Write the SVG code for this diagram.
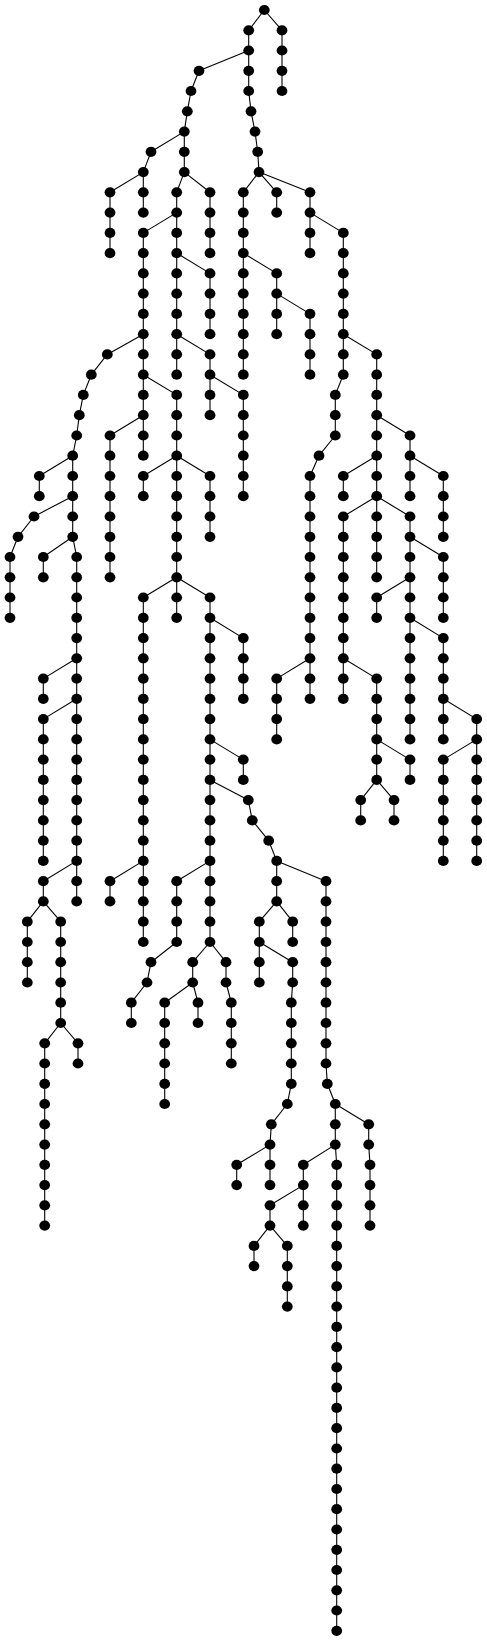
<svg xmlns="http://www.w3.org/2000/svg" width="487" height="1642" viewBox="0 0 487 1642">
<style>
#edges path{stroke:#000;stroke-width:1.1;fill:none}
.n use{fill:#000}
</style>
<defs><ellipse id="d" cx="0" cy="0" rx="5.4" ry="5.1"/></defs>
<rect width="487" height="1642" fill="#fff"/>
<g id="edges">
<path d="M264.3 10L248.7 30.3"/><path d="M264.3 10L282 30.3"/>
<path d="M282 30.3L282 50.5"/><path d="M282 50.5L282 70.8"/><path d="M282 70.8L282 91"/>
<path d="M248.7 30.3L248.7 50.5"/><path d="M248.7 50.5L248.7 70.8"/><path d="M248.7 70.8L248.7 91"/><path d="M248.7 91L251 111.3"/><path d="M251 111.3L255 131.6"/><path d="M255 131.6L257.7 151.8"/><path d="M257.7 151.8L259 172.1"/>
<path d="M248.7 50.5L199 70.8"/><path d="M199 70.8L191 91"/><path d="M191 91L187.3 111.3"/><path d="M187.3 111.3L184.3 131.6"/>
<path d="M184.3 131.6L151 151.8"/><path d="M151 151.8L143.3 172.1"/>
<path d="M143.3 172.1L110 192.3"/><path d="M110 192.3L110 212.6"/><path d="M110 212.6L110 232.9"/><path d="M110 232.9L110 253.1"/>
<path d="M143.3 172.1L143.3 192.3"/><path d="M143.3 192.3L143.3 212.6"/>
<path d="M184.3 131.6L184.3 151.8"/><path d="M184.3 151.8L184.3 172.1"/>
<path d="M184.3 172.1L176.7 192.3"/><path d="M176.7 192.3L176.7 212.6"/>
<path d="M184.3 172.1L210 192.3"/><path d="M210 192.3L210 212.6"/><path d="M210 212.6L210 232.9"/><path d="M210 232.9L210 253.1"/>
<path d="M176.7 212.6L143.3 232.9"/><path d="M143.3 232.9L143.3 253.1"/><path d="M143.3 253.1L143.3 273.4"/><path d="M143.3 273.4L143.3 293.6"/><path d="M143.3 293.6L143.3 313.9"/><path d="M143.3 313.9L143.3 334.2"/>
<path d="M176.7 212.6L176.7 232.9"/><path d="M176.7 232.9L176.7 253.1"/><path d="M176.7 253.1L176.7 273.4"/><path d="M176.7 273.4L176.7 293.6"/><path d="M176.7 293.6L176.7 313.9"/><path d="M176.7 313.9L176.7 334.2"/>
<path d="M176.7 253.1L210 273.4"/><path d="M210 273.4L210 293.6"/><path d="M210 293.6L210 313.9"/><path d="M210 313.9L210 334.2"/>
<path d="M259 172.1L243.3 192.3"/><path d="M243.3 192.3L243.3 212.6"/><path d="M243.3 212.6L243.3 232.9"/><path d="M243.3 232.9L243.3 253.1"/><path d="M243.3 253.1L243.3 273.4"/><path d="M243.3 273.4L243.3 293.6"/><path d="M243.3 293.6L243.3 313.9"/><path d="M243.3 313.9L243.3 334.2"/><path d="M243.3 334.2L243.3 354.4"/><path d="M243.3 354.4L243.3 374.7"/>
<path d="M259 172.1L276.7 192.3"/><path d="M276.7 192.3L276.7 212.6"/>
<path d="M259 172.1L310 192.3"/><path d="M310 192.3L310 212.6"/><path d="M310 212.6L310 232.9"/><path d="M310 232.9L310 253.1"/>
<path d="M243.3 253.1L276.7 273.4"/><path d="M276.7 273.4L276.7 293.6"/><path d="M276.7 293.6L276.7 313.9"/><path d="M276.7 313.9L276.7 334.2"/>
<path d="M276.7 293.6L310 313.9"/><path d="M310 313.9L310 334.2"/><path d="M310 334.2L310 354.4"/><path d="M310 354.4L310 374.7"/>
<path d="M310 212.6L343.3 232.9"/><path d="M343.3 232.9L343.3 253.1"/><path d="M343.3 253.1L343.3 273.4"/><path d="M343.3 273.4L343.3 293.6"/><path d="M343.3 293.6L343.3 313.9"/><path d="M343.3 313.9L343.3 334.2"/><path d="M343.3 334.2L343.3 354.4"/><path d="M343.3 354.4L343.3 374.7"/>
<path d="M343.3 334.2L376.7 354.4"/><path d="M376.7 354.4L376.7 374.7"/><path d="M376.7 374.7L376.7 394.9"/><path d="M376.7 394.9L376.7 415.2"/>
<path d="M343.3 374.7L335.3 394.9"/><path d="M335.3 394.9L335.3 415.2"/><path d="M335.3 415.2L335.3 435.5"/><path d="M335.3 435.5L319 455.7"/><path d="M319 455.7L310 476"/><path d="M310 476L310 496.2"/><path d="M310 496.2L310 516.5"/><path d="M310 516.5L310 536.8"/><path d="M310 536.8L310 557"/><path d="M310 557L310 577.3"/><path d="M310 577.3L310 597.5"/><path d="M310 597.5L310 617.8"/><path d="M310 617.8L310 638.1"/><path d="M310 638.1L310 658.3"/>
<path d="M310 658.3L276.7 678.6"/><path d="M276.7 678.6L276.7 698.8"/><path d="M276.7 698.8L276.7 719.1"/><path d="M276.7 719.1L276.7 739.4"/>
<path d="M310 658.3L310 678.6"/><path d="M310 678.6L310 698.8"/>
<path d="M376.7 415.2L376.7 435.5"/><path d="M376.7 435.5L376.7 455.7"/>
<path d="M376.7 455.7L343.3 476"/><path d="M343.3 476L343.3 496.2"/>
<path d="M376.7 455.7L376.7 476"/><path d="M376.7 476L376.7 496.2"/>
<path d="M376.7 415.2L410 435.5"/><path d="M410 435.5L410 455.7"/><path d="M410 455.7L410 476"/><path d="M410 476L410 496.2"/>
<path d="M410 455.7L443.3 476"/><path d="M443.3 476L443.3 496.2"/><path d="M443.3 496.2L443.3 516.5"/><path d="M443.3 516.5L443.3 536.8"/>
<path d="M376.7 496.2L343.3 516.5"/><path d="M343.3 516.5L343.3 536.8"/><path d="M343.3 536.8L343.3 557"/><path d="M343.3 557L343.3 577.3"/><path d="M343.3 577.3L343.3 597.5"/><path d="M343.3 597.5L343.3 617.8"/><path d="M343.3 617.8L343.3 638.1"/><path d="M343.3 638.1L343.3 658.3"/>
<path d="M343.3 658.3L343.3 678.6"/><path d="M343.3 678.6L343.3 698.8"/>
<path d="M343.3 658.3L376.7 678.6"/><path d="M376.7 678.6L376.7 698.8"/><path d="M376.7 698.8L376.7 719.1"/><path d="M376.7 719.1L376.7 739.4"/><path d="M376.7 739.4L376.7 759.6"/><path d="M376.7 759.6L376.7 779.9"/>
<path d="M376.7 779.9L360.7 800.1"/><path d="M360.7 800.1L360.7 820.4"/>
<path d="M376.7 779.9L394 800.1"/><path d="M394 800.1L394 820.4"/>
<path d="M376.7 739.4L410 759.6"/><path d="M410 759.6L410 779.9"/>
<path d="M376.7 496.2L376.7 516.5"/><path d="M376.7 516.5L376.7 536.8"/><path d="M376.7 536.8L376.7 557"/><path d="M376.7 557L376.7 577.3"/>
<path d="M376.7 496.2L410 516.5"/><path d="M410 516.5L410 536.8"/><path d="M410 536.8L410 557"/><path d="M410 557L410 577.3"/>
<path d="M410 577.3L376.7 597.5"/><path d="M376.7 597.5L376.7 617.8"/>
<path d="M410 577.3L410 597.5"/><path d="M410 597.5L410 617.8"/><path d="M410 617.8L410 638.1"/><path d="M410 638.1L410 658.3"/><path d="M410 658.3L410 678.6"/><path d="M410 678.6L410 698.8"/><path d="M410 698.8L410 719.1"/><path d="M410 719.1L410 739.4"/>
<path d="M410 536.8L443.3 557"/><path d="M443.3 557L443.3 577.3"/><path d="M443.3 577.3L443.3 597.5"/><path d="M443.3 597.5L443.3 617.8"/>
<path d="M410 617.8L443.3 638.1"/><path d="M443.3 638.1L443.3 658.3"/><path d="M443.3 658.3L443.3 678.6"/><path d="M443.3 678.6L443.3 698.8"/><path d="M443.3 698.8L443.3 719.1"/><path d="M443.3 719.1L443.3 739.4"/>
<path d="M443.3 698.8L476.7 719.1"/><path d="M476.7 719.1L476.7 739.4"/>
<path d="M476.7 739.4L443.3 759.6"/><path d="M443.3 759.6L443.3 779.9"/><path d="M443.3 779.9L443.3 800.1"/><path d="M443.3 800.1L443.3 820.4"/><path d="M443.3 820.4L443.3 840.7"/><path d="M443.3 840.7L443.3 860.9"/>
<path d="M476.7 739.4L476.7 759.6"/><path d="M476.7 759.6L476.7 779.9"/><path d="M476.7 779.9L476.7 800.1"/><path d="M476.7 800.1L476.7 820.4"/><path d="M476.7 820.4L476.7 840.7"/><path d="M476.7 840.7L476.7 860.9"/>
<path d="M143.3 334.2L107.3 354.4"/><path d="M107.3 354.4L91.3 374.7"/><path d="M91.3 374.7L83.3 394.9"/><path d="M83.3 394.9L79.3 415.2"/><path d="M79.3 415.2L76.7 435.5"/><path d="M76.7 435.5L72.7 455.7"/>
<path d="M72.7 455.7L39.3 476"/><path d="M39.3 476L39.3 496.2"/>
<path d="M72.7 455.7L72.7 476"/><path d="M72.7 476L72.7 496.2"/>
<path d="M72.7 496.2L34 516.5"/><path d="M34 516.5L18 536.8"/><path d="M18 536.8L10 557"/><path d="M10 557L10 577.3"/><path d="M10 577.3L10 597.5"/><path d="M10 597.5L10 617.8"/>
<path d="M72.7 496.2L72.7 516.5"/><path d="M72.7 516.5L72.7 536.8"/>
<path d="M72.7 536.8L43.3 557"/><path d="M43.3 557L43.3 577.3"/>
<path d="M72.7 536.8L76.7 557"/><path d="M76.7 557L76.7 577.3"/><path d="M76.7 577.3L76.7 597.5"/><path d="M76.7 597.5L76.7 617.8"/><path d="M76.7 617.8L76.7 638.1"/><path d="M76.7 638.1L76.7 658.3"/>
<path d="M76.7 658.3L43.3 678.6"/><path d="M43.3 678.6L43.3 698.8"/>
<path d="M76.7 658.3L76.7 678.6"/><path d="M76.7 678.6L76.7 698.8"/>
<path d="M76.7 698.8L43.3 719.1"/><path d="M43.3 719.1L43.3 739.4"/><path d="M43.3 739.4L43.3 759.6"/><path d="M43.3 759.6L43.3 779.9"/><path d="M43.3 779.9L43.3 800.1"/><path d="M43.3 800.1L43.3 820.4"/><path d="M43.3 820.4L43.3 840.7"/><path d="M43.3 840.7L43.3 860.9"/>
<path d="M76.7 698.8L76.7 719.1"/><path d="M76.7 719.1L76.7 739.4"/><path d="M76.7 739.4L76.7 759.6"/><path d="M76.7 759.6L76.7 779.9"/><path d="M76.7 779.9L76.7 800.1"/><path d="M76.7 800.1L76.7 820.4"/><path d="M76.7 820.4L76.7 840.7"/><path d="M76.7 840.7L76.7 860.9"/>
<path d="M76.7 860.9L43.3 881.2"/><path d="M43.3 881.2L43.3 901.4"/>
<path d="M43.3 901.4L27.3 921.7"/><path d="M27.3 921.7L27.3 942"/><path d="M27.3 942L27.3 962.2"/><path d="M27.3 962.2L27.3 982.5"/>
<path d="M43.3 901.4L60.7 921.7"/><path d="M60.7 921.7L60.7 942"/><path d="M60.7 942L60.7 962.2"/><path d="M60.7 962.2L60.7 982.5"/><path d="M60.7 982.5L60.7 1002.7"/><path d="M60.7 1002.7L60.7 1023"/>
<path d="M60.7 1023L44.7 1043.3"/><path d="M44.7 1043.3L44.7 1063.5"/><path d="M44.7 1063.5L44.7 1083.8"/><path d="M44.7 1083.8L44.7 1104"/><path d="M44.7 1104L44.7 1124.3"/><path d="M44.7 1124.3L44.7 1144.6"/><path d="M44.7 1144.6L44.7 1164.8"/><path d="M44.7 1164.8L44.7 1185.1"/><path d="M44.7 1185.1L44.7 1205.3"/><path d="M44.7 1205.3L44.7 1225.6"/>
<path d="M60.7 1023L78 1043.3"/><path d="M78 1043.3L78 1063.5"/>
<path d="M76.7 860.9L76.7 881.2"/><path d="M76.7 881.2L76.7 901.4"/>
<path d="M143.3 334.2L143.3 354.4"/><path d="M143.3 354.4L143.3 374.7"/><path d="M143.3 374.7L143.3 394.9"/><path d="M143.3 394.9L143.3 415.2"/>
<path d="M143.3 415.2L110 435.5"/><path d="M110 435.5L110 455.7"/><path d="M110 455.7L110 476"/><path d="M110 476L110 496.2"/><path d="M110 496.2L110 516.5"/><path d="M110 516.5L110 536.8"/><path d="M110 536.8L110 557"/><path d="M110 557L110 577.3"/>
<path d="M143.3 415.2L143.3 435.5"/><path d="M143.3 435.5L143.3 455.7"/>
<path d="M143.3 374.7L176.7 394.9"/><path d="M176.7 394.9L176.7 415.2"/><path d="M176.7 415.2L176.7 435.5"/><path d="M176.7 435.5L176.7 455.7"/>
<path d="M176.7 455.7L143.3 476"/><path d="M143.3 476L143.3 496.2"/>
<path d="M176.7 455.7L176.7 476"/><path d="M176.7 476L176.7 496.2"/><path d="M176.7 496.2L176.7 516.5"/><path d="M176.7 516.5L176.7 536.8"/><path d="M176.7 536.8L176.7 557"/><path d="M176.7 557L176.7 577.3"/>
<path d="M176.7 577.3L143.3 597.5"/><path d="M143.3 597.5L143.3 617.8"/><path d="M143.3 617.8L143.3 638.1"/><path d="M143.3 638.1L143.3 658.3"/><path d="M143.3 658.3L143.3 678.6"/><path d="M143.3 678.6L143.3 698.8"/><path d="M143.3 698.8L143.3 719.1"/><path d="M143.3 719.1L143.3 739.4"/><path d="M143.3 739.4L143.3 759.6"/><path d="M143.3 759.6L143.3 779.9"/><path d="M143.3 779.9L143.3 800.1"/><path d="M143.3 800.1L143.3 820.4"/><path d="M143.3 820.4L143.3 840.7"/><path d="M143.3 840.7L143.3 860.9"/>
<path d="M143.3 860.9L110 881.2"/><path d="M110 881.2L110 901.4"/>
<path d="M143.3 860.9L143.3 881.2"/><path d="M143.3 881.2L143.3 901.4"/><path d="M143.3 901.4L143.3 921.7"/><path d="M143.3 921.7L143.3 942"/>
<path d="M176.7 577.3L176.7 597.5"/><path d="M176.7 597.5L176.7 617.8"/>
<path d="M176.7 577.3L210 597.5"/><path d="M210 597.5L210 617.8"/><path d="M210 617.8L210 638.1"/><path d="M210 638.1L210 658.3"/><path d="M210 658.3L210 678.6"/><path d="M210 678.6L210 698.8"/><path d="M210 698.8L210 719.1"/><path d="M210 719.1L210 739.4"/>
<path d="M210 617.8L243.3 638.1"/><path d="M243.3 638.1L243.3 658.3"/><path d="M243.3 658.3L243.3 678.6"/><path d="M243.3 678.6L243.3 698.8"/>
<path d="M176.7 455.7L210 476"/><path d="M210 476L210 496.2"/><path d="M210 496.2L210 516.5"/><path d="M210 516.5L210 536.8"/>
<path d="M176.7 334.2L176.7 354.4"/><path d="M176.7 354.4L176.7 374.7"/>
<path d="M176.7 334.2L210 354.4"/><path d="M210 354.4L210 374.7"/><path d="M210 374.7L210 394.9"/><path d="M210 394.9L210 415.2"/>
<path d="M210 374.7L243.3 394.9"/><path d="M243.3 394.9L243.3 415.2"/><path d="M243.3 415.2L243.3 435.5"/><path d="M243.3 435.5L243.3 455.7"/><path d="M243.3 455.7L243.3 476"/><path d="M243.3 476L243.3 496.2"/>
<path d="M210 739.4L210 759.6"/><path d="M210 759.6L210 779.9"/>
<path d="M210 739.4L243.3 759.6"/><path d="M243.3 759.6L243.3 779.9"/>
<path d="M210 779.9L210 800.1"/><path d="M210 800.1L210 820.4"/><path d="M210 820.4L210 840.7"/><path d="M210 840.7L210 860.9"/>
<path d="M210 860.9L176.7 881.2"/><path d="M176.7 881.2L176.7 901.4"/><path d="M176.7 901.4L176.7 921.7"/><path d="M176.7 921.7L176.7 942"/><path d="M176.7 942L151 962.2"/><path d="M151 962.2L147 982.5"/><path d="M147 982.5L131.3 1002.7"/><path d="M131.3 1002.7L131.3 1023"/>
<path d="M210 860.9L210 881.2"/><path d="M210 881.2L210 901.4"/><path d="M210 901.4L210 921.7"/><path d="M210 921.7L210 942"/>
<path d="M210 942L192.7 962.2"/><path d="M192.7 962.2L192.7 982.5"/>
<path d="M192.7 982.5L164.7 1002.7"/><path d="M164.7 1002.7L164.7 1023"/><path d="M164.7 1023L164.7 1043.3"/><path d="M164.7 1043.3L164.7 1063.5"/><path d="M164.7 1063.5L164.7 1083.8"/><path d="M164.7 1083.8L164.7 1104"/>
<path d="M192.7 982.5L198 1002.7"/><path d="M198 1002.7L198 1023"/>
<path d="M210 942L226 962.2"/><path d="M226 962.2L226 982.5"/><path d="M226 982.5L231.3 1002.7"/><path d="M231.3 1002.7L231.3 1023"/><path d="M231.3 1023L231.3 1043.3"/><path d="M231.3 1043.3L231.3 1063.5"/>
<path d="M210 779.9L248.3 800.1"/><path d="M248.3 800.1L252.3 820.4"/><path d="M252.3 820.4L268.7 840.7"/><path d="M268.7 840.7L276.7 860.9"/><path d="M276.7 860.9L276.7 881.2"/><path d="M276.7 881.2L276.7 901.4"/>
<path d="M276.7 901.4L259.3 921.7"/><path d="M259.3 921.7L259.3 942"/><path d="M259.3 942L259.3 962.2"/><path d="M259.3 962.2L259.3 982.5"/>
<path d="M259.3 942L292.7 962.2"/><path d="M292.7 962.2L292.7 982.5"/><path d="M292.7 982.5L291.3 1002.7"/><path d="M291.3 1002.7L291.3 1023"/><path d="M291.3 1023L291.3 1043.3"/><path d="M291.3 1043.3L291.3 1063.5"/><path d="M291.3 1063.5L291.3 1083.8"/><path d="M291.3 1083.8L287.3 1104"/><path d="M287.3 1104L271.3 1124.3"/><path d="M271.3 1124.3L270 1144.6"/>
<path d="M270 1144.6L236.7 1164.8"/><path d="M236.7 1164.8L236.7 1185.1"/>
<path d="M270 1144.6L270 1164.8"/><path d="M270 1164.8L270 1185.1"/>
<path d="M276.7 901.4L292.7 921.7"/><path d="M292.7 921.7L292.7 942"/>
<path d="M276.7 860.9L326 881.2"/><path d="M326 881.2L326 901.4"/><path d="M326 901.4L326 921.7"/><path d="M326 921.7L326 942"/><path d="M326 942L326 962.2"/><path d="M326 962.2L326 982.5"/><path d="M326 982.5L326 1002.7"/><path d="M326 1002.7L326 1023"/><path d="M326 1023L326 1043.3"/><path d="M326 1043.3L326 1063.5"/><path d="M326 1063.5L327.3 1083.8"/><path d="M327.3 1083.8L335.3 1104"/><path d="M335.3 1104L335.3 1124.3"/><path d="M335.3 1124.3L335.3 1144.6"/>
<path d="M335.3 1144.6L303.3 1164.8"/><path d="M303.3 1164.8L303.3 1185.1"/>
<path d="M303.3 1185.1L270 1205.3"/><path d="M270 1205.3L270 1225.6"/>
<path d="M270 1225.6L254 1245.9"/><path d="M254 1245.9L254 1266.1"/>
<path d="M270 1225.6L287.3 1245.9"/><path d="M287.3 1245.9L287.3 1266.1"/><path d="M287.3 1266.1L287.3 1286.4"/><path d="M287.3 1286.4L287.3 1306.6"/>
<path d="M303.3 1185.1L303.3 1205.3"/><path d="M303.3 1205.3L303.3 1225.6"/>
<path d="M335.3 1144.6L336.7 1164.8"/><path d="M336.7 1164.8L336.7 1185.1"/><path d="M336.7 1185.1L336.7 1205.3"/><path d="M336.7 1205.3L336.7 1225.6"/><path d="M336.7 1225.6L336.7 1245.9"/><path d="M336.7 1245.9L336.7 1266.1"/><path d="M336.7 1266.1L336.7 1286.4"/><path d="M336.7 1286.4L336.7 1306.6"/><path d="M336.7 1306.6L336.7 1326.9"/><path d="M336.7 1326.9L336.7 1347.2"/><path d="M336.7 1347.2L336.7 1367.4"/><path d="M336.7 1367.4L336.7 1387.7"/><path d="M336.7 1387.7L336.7 1407.9"/><path d="M336.7 1407.9L336.7 1428.2"/><path d="M336.7 1428.2L336.7 1448.5"/><path d="M336.7 1448.5L336.7 1468.7"/><path d="M336.7 1468.7L336.7 1489"/><path d="M336.7 1489L336.7 1509.2"/><path d="M336.7 1509.2L336.7 1529.5"/><path d="M336.7 1529.5L336.7 1549.8"/><path d="M336.7 1549.8L336.7 1570"/><path d="M336.7 1570L336.7 1590.3"/><path d="M336.7 1590.3L336.7 1610.5"/><path d="M336.7 1610.5L336.7 1630.8"/>
<path d="M335.3 1104L368.7 1124.3"/><path d="M368.7 1124.3L368.7 1144.6"/><path d="M368.7 1144.6L370 1164.8"/><path d="M370 1164.8L370 1185.1"/><path d="M370 1185.1L370 1205.3"/><path d="M370 1205.3L370 1225.6"/>
</g>
<g class="n">
<g id="n0"><use href="#d" x="264.3" y="10"/></g>
<g id="n1"><use href="#d" x="248.7" y="30.3"/></g>
<g id="n2"><use href="#d" x="282" y="30.3"/></g>
<g id="n3"><use href="#d" x="282" y="50.5"/></g>
<g id="n4"><use href="#d" x="282" y="70.8"/></g>
<g id="n5"><use href="#d" x="282" y="91"/></g>
<g id="n6"><use href="#d" x="248.7" y="50.5"/></g>
<g id="n7"><use href="#d" x="248.7" y="70.8"/></g>
<g id="n8"><use href="#d" x="248.7" y="91"/></g>
<g id="n9"><use href="#d" x="251" y="111.3"/></g>
<g id="n10"><use href="#d" x="255" y="131.6"/></g>
<g id="n11"><use href="#d" x="257.7" y="151.8"/></g>
<g id="n12"><use href="#d" x="259" y="172.1"/></g>
<g id="n13"><use href="#d" x="199" y="70.8"/></g>
<g id="n14"><use href="#d" x="191" y="91"/></g>
<g id="n15"><use href="#d" x="187.3" y="111.3"/></g>
<g id="n16"><use href="#d" x="184.3" y="131.6"/></g>
<g id="n17"><use href="#d" x="151" y="151.8"/></g>
<g id="n18"><use href="#d" x="143.3" y="172.1"/></g>
<g id="n19"><use href="#d" x="110" y="192.3"/></g>
<g id="n20"><use href="#d" x="110" y="212.6"/></g>
<g id="n21"><use href="#d" x="110" y="232.9"/></g>
<g id="n22"><use href="#d" x="110" y="253.1"/></g>
<g id="n23"><use href="#d" x="143.3" y="192.3"/></g>
<g id="n24"><use href="#d" x="143.3" y="212.6"/></g>
<g id="n25"><use href="#d" x="184.3" y="151.8"/></g>
<g id="n26"><use href="#d" x="184.3" y="172.1"/></g>
<g id="n27"><use href="#d" x="176.7" y="192.3"/></g>
<g id="n28"><use href="#d" x="176.7" y="212.6"/></g>
<g id="n29"><use href="#d" x="210" y="192.3"/></g>
<g id="n30"><use href="#d" x="210" y="212.6"/></g>
<g id="n31"><use href="#d" x="210" y="232.9"/></g>
<g id="n32"><use href="#d" x="210" y="253.1"/></g>
<g id="n33"><use href="#d" x="143.3" y="232.9"/></g>
<g id="n34"><use href="#d" x="143.3" y="253.1"/></g>
<g id="n35"><use href="#d" x="143.3" y="273.4"/></g>
<g id="n36"><use href="#d" x="143.3" y="293.6"/></g>
<g id="n37"><use href="#d" x="143.3" y="313.9"/></g>
<g id="n38"><use href="#d" x="143.3" y="334.2"/></g>
<g id="n39"><use href="#d" x="176.7" y="232.9"/></g>
<g id="n40"><use href="#d" x="176.7" y="253.1"/></g>
<g id="n41"><use href="#d" x="176.7" y="273.4"/></g>
<g id="n42"><use href="#d" x="176.7" y="293.6"/></g>
<g id="n43"><use href="#d" x="176.7" y="313.9"/></g>
<g id="n44"><use href="#d" x="176.7" y="334.2"/></g>
<g id="n45"><use href="#d" x="210" y="273.4"/></g>
<g id="n46"><use href="#d" x="210" y="293.6"/></g>
<g id="n47"><use href="#d" x="210" y="313.9"/></g>
<g id="n48"><use href="#d" x="210" y="334.2"/></g>
<g id="n49"><use href="#d" x="243.3" y="192.3"/></g>
<g id="n50"><use href="#d" x="243.3" y="212.6"/></g>
<g id="n51"><use href="#d" x="243.3" y="232.9"/></g>
<g id="n52"><use href="#d" x="243.3" y="253.1"/></g>
<g id="n53"><use href="#d" x="243.3" y="273.4"/></g>
<g id="n54"><use href="#d" x="243.3" y="293.6"/></g>
<g id="n55"><use href="#d" x="243.3" y="313.9"/></g>
<g id="n56"><use href="#d" x="243.3" y="334.2"/></g>
<g id="n57"><use href="#d" x="243.3" y="354.4"/></g>
<g id="n58"><use href="#d" x="243.3" y="374.7"/></g>
<g id="n59"><use href="#d" x="276.7" y="192.3"/></g>
<g id="n60"><use href="#d" x="276.7" y="212.6"/></g>
<g id="n61"><use href="#d" x="310" y="192.3"/></g>
<g id="n62"><use href="#d" x="310" y="212.6"/></g>
<g id="n63"><use href="#d" x="310" y="232.9"/></g>
<g id="n64"><use href="#d" x="310" y="253.1"/></g>
<g id="n65"><use href="#d" x="276.7" y="273.4"/></g>
<g id="n66"><use href="#d" x="276.7" y="293.6"/></g>
<g id="n67"><use href="#d" x="276.7" y="313.9"/></g>
<g id="n68"><use href="#d" x="276.7" y="334.2"/></g>
<g id="n69"><use href="#d" x="310" y="313.9"/></g>
<g id="n70"><use href="#d" x="310" y="334.2"/></g>
<g id="n71"><use href="#d" x="310" y="354.4"/></g>
<g id="n72"><use href="#d" x="310" y="374.7"/></g>
<g id="n73"><use href="#d" x="343.3" y="232.9"/></g>
<g id="n74"><use href="#d" x="343.3" y="253.1"/></g>
<g id="n75"><use href="#d" x="343.3" y="273.4"/></g>
<g id="n76"><use href="#d" x="343.3" y="293.6"/></g>
<g id="n77"><use href="#d" x="343.3" y="313.9"/></g>
<g id="n78"><use href="#d" x="343.3" y="334.2"/></g>
<g id="n79"><use href="#d" x="343.3" y="354.4"/></g>
<g id="n80"><use href="#d" x="343.3" y="374.7"/></g>
<g id="n81"><use href="#d" x="376.7" y="354.4"/></g>
<g id="n82"><use href="#d" x="376.7" y="374.7"/></g>
<g id="n83"><use href="#d" x="376.7" y="394.9"/></g>
<g id="n84"><use href="#d" x="376.7" y="415.2"/></g>
<g id="n85"><use href="#d" x="335.3" y="394.9"/></g>
<g id="n86"><use href="#d" x="335.3" y="415.2"/></g>
<g id="n87"><use href="#d" x="335.3" y="435.5"/></g>
<g id="n88"><use href="#d" x="319" y="455.7"/></g>
<g id="n89"><use href="#d" x="310" y="476"/></g>
<g id="n90"><use href="#d" x="310" y="496.2"/></g>
<g id="n91"><use href="#d" x="310" y="516.5"/></g>
<g id="n92"><use href="#d" x="310" y="536.8"/></g>
<g id="n93"><use href="#d" x="310" y="557"/></g>
<g id="n94"><use href="#d" x="310" y="577.3"/></g>
<g id="n95"><use href="#d" x="310" y="597.5"/></g>
<g id="n96"><use href="#d" x="310" y="617.8"/></g>
<g id="n97"><use href="#d" x="310" y="638.1"/></g>
<g id="n98"><use href="#d" x="310" y="658.3"/></g>
<g id="n99"><use href="#d" x="276.7" y="678.6"/></g>
<g id="n100"><use href="#d" x="276.7" y="698.8"/></g>
<g id="n101"><use href="#d" x="276.7" y="719.1"/></g>
<g id="n102"><use href="#d" x="276.7" y="739.4"/></g>
<g id="n103"><use href="#d" x="310" y="678.6"/></g>
<g id="n104"><use href="#d" x="310" y="698.8"/></g>
<g id="n105"><use href="#d" x="376.7" y="435.5"/></g>
<g id="n106"><use href="#d" x="376.7" y="455.7"/></g>
<g id="n107"><use href="#d" x="343.3" y="476"/></g>
<g id="n108"><use href="#d" x="343.3" y="496.2"/></g>
<g id="n109"><use href="#d" x="376.7" y="476"/></g>
<g id="n110"><use href="#d" x="376.7" y="496.2"/></g>
<g id="n111"><use href="#d" x="410" y="435.5"/></g>
<g id="n112"><use href="#d" x="410" y="455.7"/></g>
<g id="n113"><use href="#d" x="410" y="476"/></g>
<g id="n114"><use href="#d" x="410" y="496.2"/></g>
<g id="n115"><use href="#d" x="443.3" y="476"/></g>
<g id="n116"><use href="#d" x="443.3" y="496.2"/></g>
<g id="n117"><use href="#d" x="443.3" y="516.5"/></g>
<g id="n118"><use href="#d" x="443.3" y="536.8"/></g>
<g id="n119"><use href="#d" x="343.3" y="516.5"/></g>
<g id="n120"><use href="#d" x="343.3" y="536.8"/></g>
<g id="n121"><use href="#d" x="343.3" y="557"/></g>
<g id="n122"><use href="#d" x="343.3" y="577.3"/></g>
<g id="n123"><use href="#d" x="343.3" y="597.5"/></g>
<g id="n124"><use href="#d" x="343.3" y="617.8"/></g>
<g id="n125"><use href="#d" x="343.3" y="638.1"/></g>
<g id="n126"><use href="#d" x="343.3" y="658.3"/></g>
<g id="n127"><use href="#d" x="343.3" y="678.6"/></g>
<g id="n128"><use href="#d" x="343.3" y="698.8"/></g>
<g id="n129"><use href="#d" x="376.7" y="678.6"/></g>
<g id="n130"><use href="#d" x="376.7" y="698.8"/></g>
<g id="n131"><use href="#d" x="376.7" y="719.1"/></g>
<g id="n132"><use href="#d" x="376.7" y="739.4"/></g>
<g id="n133"><use href="#d" x="376.7" y="759.6"/></g>
<g id="n134"><use href="#d" x="376.7" y="779.9"/></g>
<g id="n135"><use href="#d" x="360.7" y="800.1"/></g>
<g id="n136"><use href="#d" x="360.7" y="820.4"/></g>
<g id="n137"><use href="#d" x="394" y="800.1"/></g>
<g id="n138"><use href="#d" x="394" y="820.4"/></g>
<g id="n139"><use href="#d" x="410" y="759.6"/></g>
<g id="n140"><use href="#d" x="410" y="779.9"/></g>
<g id="n141"><use href="#d" x="376.7" y="516.5"/></g>
<g id="n142"><use href="#d" x="376.7" y="536.8"/></g>
<g id="n143"><use href="#d" x="376.7" y="557"/></g>
<g id="n144"><use href="#d" x="376.7" y="577.3"/></g>
<g id="n145"><use href="#d" x="410" y="516.5"/></g>
<g id="n146"><use href="#d" x="410" y="536.8"/></g>
<g id="n147"><use href="#d" x="410" y="557"/></g>
<g id="n148"><use href="#d" x="410" y="577.3"/></g>
<g id="n149"><use href="#d" x="376.7" y="597.5"/></g>
<g id="n150"><use href="#d" x="376.7" y="617.8"/></g>
<g id="n151"><use href="#d" x="410" y="597.5"/></g>
<g id="n152"><use href="#d" x="410" y="617.8"/></g>
<g id="n153"><use href="#d" x="410" y="638.1"/></g>
<g id="n154"><use href="#d" x="410" y="658.3"/></g>
<g id="n155"><use href="#d" x="410" y="678.6"/></g>
<g id="n156"><use href="#d" x="410" y="698.8"/></g>
<g id="n157"><use href="#d" x="410" y="719.1"/></g>
<g id="n158"><use href="#d" x="410" y="739.4"/></g>
<g id="n159"><use href="#d" x="443.3" y="557"/></g>
<g id="n160"><use href="#d" x="443.3" y="577.3"/></g>
<g id="n161"><use href="#d" x="443.3" y="597.5"/></g>
<g id="n162"><use href="#d" x="443.3" y="617.8"/></g>
<g id="n163"><use href="#d" x="443.3" y="638.1"/></g>
<g id="n164"><use href="#d" x="443.3" y="658.3"/></g>
<g id="n165"><use href="#d" x="443.3" y="678.6"/></g>
<g id="n166"><use href="#d" x="443.3" y="698.8"/></g>
<g id="n167"><use href="#d" x="443.3" y="719.1"/></g>
<g id="n168"><use href="#d" x="443.3" y="739.4"/></g>
<g id="n169"><use href="#d" x="476.7" y="719.1"/></g>
<g id="n170"><use href="#d" x="476.7" y="739.4"/></g>
<g id="n171"><use href="#d" x="443.3" y="759.6"/></g>
<g id="n172"><use href="#d" x="443.3" y="779.9"/></g>
<g id="n173"><use href="#d" x="443.3" y="800.1"/></g>
<g id="n174"><use href="#d" x="443.3" y="820.4"/></g>
<g id="n175"><use href="#d" x="443.3" y="840.7"/></g>
<g id="n176"><use href="#d" x="443.3" y="860.9"/></g>
<g id="n177"><use href="#d" x="476.7" y="759.6"/></g>
<g id="n178"><use href="#d" x="476.7" y="779.9"/></g>
<g id="n179"><use href="#d" x="476.7" y="800.1"/></g>
<g id="n180"><use href="#d" x="476.7" y="820.4"/></g>
<g id="n181"><use href="#d" x="476.7" y="840.7"/></g>
<g id="n182"><use href="#d" x="476.7" y="860.9"/></g>
<g id="n183"><use href="#d" x="107.3" y="354.4"/></g>
<g id="n184"><use href="#d" x="91.3" y="374.7"/></g>
<g id="n185"><use href="#d" x="83.3" y="394.9"/></g>
<g id="n186"><use href="#d" x="79.3" y="415.2"/></g>
<g id="n187"><use href="#d" x="76.7" y="435.5"/></g>
<g id="n188"><use href="#d" x="72.7" y="455.7"/></g>
<g id="n189"><use href="#d" x="39.3" y="476"/></g>
<g id="n190"><use href="#d" x="39.3" y="496.2"/></g>
<g id="n191"><use href="#d" x="72.7" y="476"/></g>
<g id="n192"><use href="#d" x="72.7" y="496.2"/></g>
<g id="n193"><use href="#d" x="34" y="516.5"/></g>
<g id="n194"><use href="#d" x="18" y="536.8"/></g>
<g id="n195"><use href="#d" x="10" y="557"/></g>
<g id="n196"><use href="#d" x="10" y="577.3"/></g>
<g id="n197"><use href="#d" x="10" y="597.5"/></g>
<g id="n198"><use href="#d" x="10" y="617.8"/></g>
<g id="n199"><use href="#d" x="72.7" y="516.5"/></g>
<g id="n200"><use href="#d" x="72.7" y="536.8"/></g>
<g id="n201"><use href="#d" x="43.3" y="557"/></g>
<g id="n202"><use href="#d" x="43.3" y="577.3"/></g>
<g id="n203"><use href="#d" x="76.7" y="557"/></g>
<g id="n204"><use href="#d" x="76.7" y="577.3"/></g>
<g id="n205"><use href="#d" x="76.7" y="597.5"/></g>
<g id="n206"><use href="#d" x="76.7" y="617.8"/></g>
<g id="n207"><use href="#d" x="76.7" y="638.1"/></g>
<g id="n208"><use href="#d" x="76.7" y="658.3"/></g>
<g id="n209"><use href="#d" x="43.3" y="678.6"/></g>
<g id="n210"><use href="#d" x="43.3" y="698.8"/></g>
<g id="n211"><use href="#d" x="76.7" y="678.6"/></g>
<g id="n212"><use href="#d" x="76.7" y="698.8"/></g>
<g id="n213"><use href="#d" x="43.3" y="719.1"/></g>
<g id="n214"><use href="#d" x="43.3" y="739.4"/></g>
<g id="n215"><use href="#d" x="43.3" y="759.6"/></g>
<g id="n216"><use href="#d" x="43.3" y="779.9"/></g>
<g id="n217"><use href="#d" x="43.3" y="800.1"/></g>
<g id="n218"><use href="#d" x="43.3" y="820.4"/></g>
<g id="n219"><use href="#d" x="43.3" y="840.7"/></g>
<g id="n220"><use href="#d" x="43.3" y="860.9"/></g>
<g id="n221"><use href="#d" x="76.7" y="719.1"/></g>
<g id="n222"><use href="#d" x="76.7" y="739.4"/></g>
<g id="n223"><use href="#d" x="76.7" y="759.6"/></g>
<g id="n224"><use href="#d" x="76.7" y="779.9"/></g>
<g id="n225"><use href="#d" x="76.7" y="800.1"/></g>
<g id="n226"><use href="#d" x="76.7" y="820.4"/></g>
<g id="n227"><use href="#d" x="76.7" y="840.7"/></g>
<g id="n228"><use href="#d" x="76.7" y="860.9"/></g>
<g id="n229"><use href="#d" x="43.3" y="881.2"/></g>
<g id="n230"><use href="#d" x="43.3" y="901.4"/></g>
<g id="n231"><use href="#d" x="27.3" y="921.7"/></g>
<g id="n232"><use href="#d" x="27.3" y="942"/></g>
<g id="n233"><use href="#d" x="27.3" y="962.2"/></g>
<g id="n234"><use href="#d" x="27.3" y="982.5"/></g>
<g id="n235"><use href="#d" x="60.7" y="921.7"/></g>
<g id="n236"><use href="#d" x="60.7" y="942"/></g>
<g id="n237"><use href="#d" x="60.7" y="962.2"/></g>
<g id="n238"><use href="#d" x="60.7" y="982.5"/></g>
<g id="n239"><use href="#d" x="60.7" y="1002.7"/></g>
<g id="n240"><use href="#d" x="60.7" y="1023"/></g>
<g id="n241"><use href="#d" x="44.7" y="1043.3"/></g>
<g id="n242"><use href="#d" x="44.7" y="1063.5"/></g>
<g id="n243"><use href="#d" x="44.7" y="1083.8"/></g>
<g id="n244"><use href="#d" x="44.7" y="1104"/></g>
<g id="n245"><use href="#d" x="44.7" y="1124.3"/></g>
<g id="n246"><use href="#d" x="44.7" y="1144.6"/></g>
<g id="n247"><use href="#d" x="44.7" y="1164.8"/></g>
<g id="n248"><use href="#d" x="44.7" y="1185.1"/></g>
<g id="n249"><use href="#d" x="44.7" y="1205.3"/></g>
<g id="n250"><use href="#d" x="44.7" y="1225.6"/></g>
<g id="n251"><use href="#d" x="78" y="1043.3"/></g>
<g id="n252"><use href="#d" x="78" y="1063.5"/></g>
<g id="n253"><use href="#d" x="76.7" y="881.2"/></g>
<g id="n254"><use href="#d" x="76.7" y="901.4"/></g>
<g id="n255"><use href="#d" x="143.3" y="354.4"/></g>
<g id="n256"><use href="#d" x="143.3" y="374.7"/></g>
<g id="n257"><use href="#d" x="143.3" y="394.9"/></g>
<g id="n258"><use href="#d" x="143.3" y="415.2"/></g>
<g id="n259"><use href="#d" x="110" y="435.5"/></g>
<g id="n260"><use href="#d" x="110" y="455.7"/></g>
<g id="n261"><use href="#d" x="110" y="476"/></g>
<g id="n262"><use href="#d" x="110" y="496.2"/></g>
<g id="n263"><use href="#d" x="110" y="516.5"/></g>
<g id="n264"><use href="#d" x="110" y="536.8"/></g>
<g id="n265"><use href="#d" x="110" y="557"/></g>
<g id="n266"><use href="#d" x="110" y="577.3"/></g>
<g id="n267"><use href="#d" x="143.3" y="435.5"/></g>
<g id="n268"><use href="#d" x="143.3" y="455.7"/></g>
<g id="n269"><use href="#d" x="176.7" y="394.9"/></g>
<g id="n270"><use href="#d" x="176.7" y="415.2"/></g>
<g id="n271"><use href="#d" x="176.7" y="435.5"/></g>
<g id="n272"><use href="#d" x="176.7" y="455.7"/></g>
<g id="n273"><use href="#d" x="143.3" y="476"/></g>
<g id="n274"><use href="#d" x="143.3" y="496.2"/></g>
<g id="n275"><use href="#d" x="176.7" y="476"/></g>
<g id="n276"><use href="#d" x="176.7" y="496.2"/></g>
<g id="n277"><use href="#d" x="176.7" y="516.5"/></g>
<g id="n278"><use href="#d" x="176.7" y="536.8"/></g>
<g id="n279"><use href="#d" x="176.7" y="557"/></g>
<g id="n280"><use href="#d" x="176.7" y="577.3"/></g>
<g id="n281"><use href="#d" x="143.3" y="597.5"/></g>
<g id="n282"><use href="#d" x="143.3" y="617.8"/></g>
<g id="n283"><use href="#d" x="143.3" y="638.1"/></g>
<g id="n284"><use href="#d" x="143.3" y="658.3"/></g>
<g id="n285"><use href="#d" x="143.3" y="678.6"/></g>
<g id="n286"><use href="#d" x="143.3" y="698.8"/></g>
<g id="n287"><use href="#d" x="143.3" y="719.1"/></g>
<g id="n288"><use href="#d" x="143.3" y="739.4"/></g>
<g id="n289"><use href="#d" x="143.3" y="759.6"/></g>
<g id="n290"><use href="#d" x="143.3" y="779.9"/></g>
<g id="n291"><use href="#d" x="143.3" y="800.1"/></g>
<g id="n292"><use href="#d" x="143.3" y="820.4"/></g>
<g id="n293"><use href="#d" x="143.3" y="840.7"/></g>
<g id="n294"><use href="#d" x="143.3" y="860.9"/></g>
<g id="n295"><use href="#d" x="110" y="881.2"/></g>
<g id="n296"><use href="#d" x="110" y="901.4"/></g>
<g id="n297"><use href="#d" x="143.3" y="881.2"/></g>
<g id="n298"><use href="#d" x="143.3" y="901.4"/></g>
<g id="n299"><use href="#d" x="143.3" y="921.7"/></g>
<g id="n300"><use href="#d" x="143.3" y="942"/></g>
<g id="n301"><use href="#d" x="176.7" y="597.5"/></g>
<g id="n302"><use href="#d" x="176.7" y="617.8"/></g>
<g id="n303"><use href="#d" x="210" y="597.5"/></g>
<g id="n304"><use href="#d" x="210" y="617.8"/></g>
<g id="n305"><use href="#d" x="210" y="638.1"/></g>
<g id="n306"><use href="#d" x="210" y="658.3"/></g>
<g id="n307"><use href="#d" x="210" y="678.6"/></g>
<g id="n308"><use href="#d" x="210" y="698.8"/></g>
<g id="n309"><use href="#d" x="210" y="719.1"/></g>
<g id="n310"><use href="#d" x="210" y="739.4"/></g>
<g id="n311"><use href="#d" x="243.3" y="638.1"/></g>
<g id="n312"><use href="#d" x="243.3" y="658.3"/></g>
<g id="n313"><use href="#d" x="243.3" y="678.6"/></g>
<g id="n314"><use href="#d" x="243.3" y="698.8"/></g>
<g id="n315"><use href="#d" x="210" y="476"/></g>
<g id="n316"><use href="#d" x="210" y="496.2"/></g>
<g id="n317"><use href="#d" x="210" y="516.5"/></g>
<g id="n318"><use href="#d" x="210" y="536.8"/></g>
<g id="n319"><use href="#d" x="176.7" y="354.4"/></g>
<g id="n320"><use href="#d" x="176.7" y="374.7"/></g>
<g id="n321"><use href="#d" x="210" y="354.4"/></g>
<g id="n322"><use href="#d" x="210" y="374.7"/></g>
<g id="n323"><use href="#d" x="210" y="394.9"/></g>
<g id="n324"><use href="#d" x="210" y="415.2"/></g>
<g id="n325"><use href="#d" x="243.3" y="394.9"/></g>
<g id="n326"><use href="#d" x="243.3" y="415.2"/></g>
<g id="n327"><use href="#d" x="243.3" y="435.5"/></g>
<g id="n328"><use href="#d" x="243.3" y="455.7"/></g>
<g id="n329"><use href="#d" x="243.3" y="476"/></g>
<g id="n330"><use href="#d" x="243.3" y="496.2"/></g>
<g id="n331"><use href="#d" x="210" y="759.6"/></g>
<g id="n332"><use href="#d" x="210" y="779.9"/></g>
<g id="n333"><use href="#d" x="243.3" y="759.6"/></g>
<g id="n334"><use href="#d" x="243.3" y="779.9"/></g>
<g id="n335"><use href="#d" x="210" y="800.1"/></g>
<g id="n336"><use href="#d" x="210" y="820.4"/></g>
<g id="n337"><use href="#d" x="210" y="840.7"/></g>
<g id="n338"><use href="#d" x="210" y="860.9"/></g>
<g id="n339"><use href="#d" x="176.7" y="881.2"/></g>
<g id="n340"><use href="#d" x="176.7" y="901.4"/></g>
<g id="n341"><use href="#d" x="176.7" y="921.7"/></g>
<g id="n342"><use href="#d" x="176.7" y="942"/></g>
<g id="n343"><use href="#d" x="151" y="962.2"/></g>
<g id="n344"><use href="#d" x="147" y="982.5"/></g>
<g id="n345"><use href="#d" x="131.3" y="1002.7"/></g>
<g id="n346"><use href="#d" x="131.3" y="1023"/></g>
<g id="n347"><use href="#d" x="210" y="881.2"/></g>
<g id="n348"><use href="#d" x="210" y="901.4"/></g>
<g id="n349"><use href="#d" x="210" y="921.7"/></g>
<g id="n350"><use href="#d" x="210" y="942"/></g>
<g id="n351"><use href="#d" x="192.7" y="962.2"/></g>
<g id="n352"><use href="#d" x="192.7" y="982.5"/></g>
<g id="n353"><use href="#d" x="164.7" y="1002.7"/></g>
<g id="n354"><use href="#d" x="164.7" y="1023"/></g>
<g id="n355"><use href="#d" x="164.7" y="1043.3"/></g>
<g id="n356"><use href="#d" x="164.7" y="1063.5"/></g>
<g id="n357"><use href="#d" x="164.7" y="1083.8"/></g>
<g id="n358"><use href="#d" x="164.7" y="1104"/></g>
<g id="n359"><use href="#d" x="198" y="1002.7"/></g>
<g id="n360"><use href="#d" x="198" y="1023"/></g>
<g id="n361"><use href="#d" x="226" y="962.2"/></g>
<g id="n362"><use href="#d" x="226" y="982.5"/></g>
<g id="n363"><use href="#d" x="231.3" y="1002.7"/></g>
<g id="n364"><use href="#d" x="231.3" y="1023"/></g>
<g id="n365"><use href="#d" x="231.3" y="1043.3"/></g>
<g id="n366"><use href="#d" x="231.3" y="1063.5"/></g>
<g id="n367"><use href="#d" x="248.3" y="800.1"/></g>
<g id="n368"><use href="#d" x="252.3" y="820.4"/></g>
<g id="n369"><use href="#d" x="268.7" y="840.7"/></g>
<g id="n370"><use href="#d" x="276.7" y="860.9"/></g>
<g id="n371"><use href="#d" x="276.7" y="881.2"/></g>
<g id="n372"><use href="#d" x="276.7" y="901.4"/></g>
<g id="n373"><use href="#d" x="259.3" y="921.7"/></g>
<g id="n374"><use href="#d" x="259.3" y="942"/></g>
<g id="n375"><use href="#d" x="259.3" y="962.2"/></g>
<g id="n376"><use href="#d" x="259.3" y="982.5"/></g>
<g id="n377"><use href="#d" x="292.7" y="962.2"/></g>
<g id="n378"><use href="#d" x="292.7" y="982.5"/></g>
<g id="n379"><use href="#d" x="291.3" y="1002.7"/></g>
<g id="n380"><use href="#d" x="291.3" y="1023"/></g>
<g id="n381"><use href="#d" x="291.3" y="1043.3"/></g>
<g id="n382"><use href="#d" x="291.3" y="1063.5"/></g>
<g id="n383"><use href="#d" x="291.3" y="1083.8"/></g>
<g id="n384"><use href="#d" x="287.3" y="1104"/></g>
<g id="n385"><use href="#d" x="271.3" y="1124.3"/></g>
<g id="n386"><use href="#d" x="270" y="1144.6"/></g>
<g id="n387"><use href="#d" x="236.7" y="1164.8"/></g>
<g id="n388"><use href="#d" x="236.7" y="1185.1"/></g>
<g id="n389"><use href="#d" x="270" y="1164.8"/></g>
<g id="n390"><use href="#d" x="270" y="1185.1"/></g>
<g id="n391"><use href="#d" x="292.7" y="921.7"/></g>
<g id="n392"><use href="#d" x="292.7" y="942"/></g>
<g id="n393"><use href="#d" x="326" y="881.2"/></g>
<g id="n394"><use href="#d" x="326" y="901.4"/></g>
<g id="n395"><use href="#d" x="326" y="921.7"/></g>
<g id="n396"><use href="#d" x="326" y="942"/></g>
<g id="n397"><use href="#d" x="326" y="962.2"/></g>
<g id="n398"><use href="#d" x="326" y="982.5"/></g>
<g id="n399"><use href="#d" x="326" y="1002.7"/></g>
<g id="n400"><use href="#d" x="326" y="1023"/></g>
<g id="n401"><use href="#d" x="326" y="1043.3"/></g>
<g id="n402"><use href="#d" x="326" y="1063.5"/></g>
<g id="n403"><use href="#d" x="327.3" y="1083.8"/></g>
<g id="n404"><use href="#d" x="335.3" y="1104"/></g>
<g id="n405"><use href="#d" x="335.3" y="1124.3"/></g>
<g id="n406"><use href="#d" x="335.3" y="1144.6"/></g>
<g id="n407"><use href="#d" x="303.3" y="1164.8"/></g>
<g id="n408"><use href="#d" x="303.3" y="1185.1"/></g>
<g id="n409"><use href="#d" x="270" y="1205.3"/></g>
<g id="n410"><use href="#d" x="270" y="1225.6"/></g>
<g id="n411"><use href="#d" x="254" y="1245.9"/></g>
<g id="n412"><use href="#d" x="254" y="1266.1"/></g>
<g id="n413"><use href="#d" x="287.3" y="1245.9"/></g>
<g id="n414"><use href="#d" x="287.3" y="1266.1"/></g>
<g id="n415"><use href="#d" x="287.3" y="1286.4"/></g>
<g id="n416"><use href="#d" x="287.3" y="1306.6"/></g>
<g id="n417"><use href="#d" x="303.3" y="1205.3"/></g>
<g id="n418"><use href="#d" x="303.3" y="1225.6"/></g>
<g id="n419"><use href="#d" x="336.7" y="1164.8"/></g>
<g id="n420"><use href="#d" x="336.7" y="1185.1"/></g>
<g id="n421"><use href="#d" x="336.7" y="1205.3"/></g>
<g id="n422"><use href="#d" x="336.7" y="1225.6"/></g>
<g id="n423"><use href="#d" x="336.7" y="1245.9"/></g>
<g id="n424"><use href="#d" x="336.7" y="1266.1"/></g>
<g id="n425"><use href="#d" x="336.7" y="1286.4"/></g>
<g id="n426"><use href="#d" x="336.7" y="1306.6"/></g>
<g id="n427"><use href="#d" x="336.7" y="1326.9"/></g>
<g id="n428"><use href="#d" x="336.7" y="1347.2"/></g>
<g id="n429"><use href="#d" x="336.7" y="1367.4"/></g>
<g id="n430"><use href="#d" x="336.7" y="1387.7"/></g>
<g id="n431"><use href="#d" x="336.7" y="1407.9"/></g>
<g id="n432"><use href="#d" x="336.7" y="1428.2"/></g>
<g id="n433"><use href="#d" x="336.7" y="1448.5"/></g>
<g id="n434"><use href="#d" x="336.7" y="1468.7"/></g>
<g id="n435"><use href="#d" x="336.7" y="1489"/></g>
<g id="n436"><use href="#d" x="336.7" y="1509.2"/></g>
<g id="n437"><use href="#d" x="336.7" y="1529.5"/></g>
<g id="n438"><use href="#d" x="336.7" y="1549.8"/></g>
<g id="n439"><use href="#d" x="336.7" y="1570"/></g>
<g id="n440"><use href="#d" x="336.7" y="1590.3"/></g>
<g id="n441"><use href="#d" x="336.7" y="1610.5"/></g>
<g id="n442"><use href="#d" x="336.7" y="1630.8"/></g>
<g id="n443"><use href="#d" x="368.7" y="1124.3"/></g>
<g id="n444"><use href="#d" x="368.7" y="1144.6"/></g>
<g id="n445"><use href="#d" x="370" y="1164.8"/></g>
<g id="n446"><use href="#d" x="370" y="1185.1"/></g>
<g id="n447"><use href="#d" x="370" y="1205.3"/></g>
<g id="n448"><use href="#d" x="370" y="1225.6"/></g>
</g>
</svg>
